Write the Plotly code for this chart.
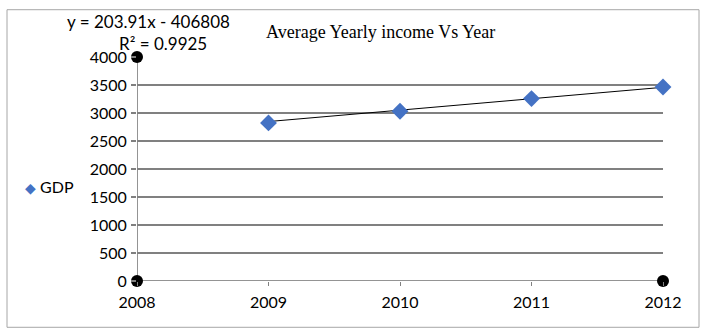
import plotly.graph_objects as go

years = [2009, 2010, 2011, 2012]
gdp = [2823, 3031, 3257, 3463]
trend_slope = 203.91
trend_intercept = -406808
r_squared = 0.9925
x_ticks = [2008, 2009, 2010, 2011, 2012]
y_ticks = [0, 500, 1000, 1500, 2000, 2500, 3000, 3500, 4000]

W, H = 704, 332
L, R, T, B = 137, 41, 56.5, 50.5
pw, ph = W - L - R, H - T - B

def px(xp):
    return (xp - L) / pw

def py(yp):
    return (H - B - yp) / ph

fig = go.Figure()

trend_x = [years[0], years[-1]]
trend_y = [trend_slope * x + trend_intercept for x in trend_x]
fig.add_trace(go.Scatter(x=trend_x, y=trend_y, mode="lines",
                         line=dict(color="black", width=1), showlegend=False,
                         hoverinfo="skip"))

fig.add_trace(go.Scatter(x=years, y=gdp, mode="markers", name="GDP",
                         marker=dict(symbol="diamond", size=13, color="#4472C4",
                                     line=dict(width=0)),
                         cliponaxis=False, showlegend=False))

fig.add_trace(go.Scatter(x=[x_ticks[0], x_ticks[0], x_ticks[-1]],
                         y=[y_ticks[-1], y_ticks[0], y_ticks[0]],
                         mode="markers",
                         marker=dict(color="black", size=12, line=dict(color="black", width=0)),
                         showlegend=False, cliponaxis=False, hoverinfo="skip"))

font = "Lato"
fs = 16
fig.update_layout(
    width=W, height=H,
    margin=dict(l=L, r=R, t=T, b=B, pad=0),
    paper_bgcolor="white", plot_bgcolor="white",
    font=dict(family=font, size=fs, color="black"),
    showlegend=False,
    xaxis=dict(range=[2008, 2012], tickvals=x_ticks, ticktext=[str(v) for v in x_ticks],
               showgrid=False, zeroline=False, showline=False,
               ticks="outside", ticklen=4, tickcolor="#808080", tickwidth=1,
               ticklabelstandoff=3),
    yaxis=dict(range=[0, 4000], tickvals=y_ticks, showgrid=True,
               gridcolor="#808080", gridwidth=1.5, zeroline=False,
               showline=False, ticks="outside", ticklen=5, tickcolor="#808080",
               tickwidth=1.5, ticklabelstandoff=1),
    shapes=[
        dict(type="line", xref="x", yref="y", x0=2008, x1=2008, y0=0, y1=4000,
             line=dict(color="#707070", width=1.5), layer="below"),
        dict(type="line", xref="x", yref="y", x0=2008, x1=2012, y0=0, y1=0,
             line=dict(color="#707070", width=1.5), layer="below"),
        dict(type="rect", xref="paper", yref="paper",
             x0=px(7), x1=px(699), y0=py(328), y1=py(9),
             line=dict(color="#A6A6A6", width=1), layer="below"),
    ],
    annotations=[
        dict(text="Average Yearly income Vs Year", xref="paper", yref="paper",
             x=px(380), y=py(31), xanchor="center", yanchor="middle",
             showarrow=False, font=dict(family="Liberation Serif", size=18)),
        dict(text=f"y = {trend_slope}x - {abs(trend_intercept)}", xref="paper", yref="paper",
             x=px(148), y=py(21), xanchor="center", yanchor="middle",
             showarrow=False, font=dict(family=font, size=17)),
        dict(text=f"R² = {r_squared}", xref="paper", yref="paper",
             x=px(163), y=py(43), xanchor="center", yanchor="middle",
             showarrow=False, font=dict(family=font, size=17)),
        dict(text="<span style='color:#4472C4;font-size:14px'>◆</span> GDP",
             xref="paper", yref="paper",
             x=px(23), y=py(187), xanchor="left", yanchor="middle",
             showarrow=False, font=dict(family=font, size=fs)),
    ],
)

fig.write_html("out.html", config={"displayModeBar": False},
               post_script="document.body.style.margin='0';document.body.style.overflow='hidden';")
